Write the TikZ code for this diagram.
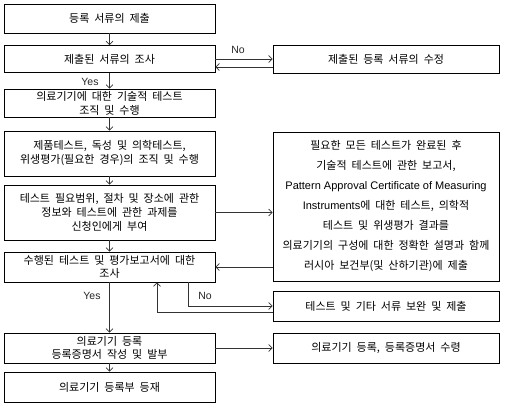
\documentclass[tikz,border=0pt]{standalone}
\usepackage{fontspec}
\setmainfont{Noto Sans CJK KR}[WordSpace=2]
\newfontfamily\lat{Liberation Sans}
\usetikzlibrary{arrows.meta}
\begin{document}
\begin{tikzpicture}[x=1pt,y=-1pt,
  box/.style={draw, line width=0.8pt, inner sep=0pt, align=center, font=\fontsize{11}{14}\selectfont},
  lbox/.style={box, minimum width=211pt},
  rbox/.style={box, minimum width=226pt},
  arr/.style={-{Straight Barb[length=3.5pt,width=7pt]}, line width=0.7pt, draw=black!80},
  lab/.style={font=\lat\fontsize{10.5}{12}\selectfont, inner sep=0pt, text=black!85}]
\useasboundingbox (0,0) rectangle (505,411);
% left column
\node[lbox, minimum height=29pt] (b1) at (109.5,18.5) {등록 서류의 제출};
\node[lbox, minimum height=27pt] (b2) at (109.5,59) {제출된 서류의 조사};
\node[lbox, minimum height=28pt] (b3) at (109.5,103) {의료기기에 대한 기술적 테스트\\조직 및 수행};
\node[lbox, minimum height=45pt] (b4) at (109.5,153.5) {제품테스트, 독성 및 의학테스트,\\위생평가(필요한 경우)의 조직 및 수행};
\node[lbox, minimum height=55pt] (b5) at (109.5,212.5) {테스트 필요범위, 절차 및 장소에 관한\\정보와 테스트에 관한 과제를\\신청인에게 부여};
\node[lbox, minimum height=30pt, font=\fontsize{11}{12.5}\selectfont] (b6) at (109.5,267) {수행된 테스트 및 평가보고서에 대한\\조사};
\node[lbox, minimum height=30pt, font=\fontsize{11}{12.5}\selectfont] (b7) at (109.5,348) {의료기기 등록\\등록증명서 작성 및 발부};
\node[lbox, minimum height=30pt] (b8) at (109.5,387) {의료기기 등록부 등재};
% right column
\node[rbox, minimum height=28pt] (r1) at (386,59) {제출된 등록 서류의 수정};
\node[rbox, minimum height=149pt, font=\fontsize{11}{20}\selectfont] (r2) at (386,206.5) {필요한 모든 테스트가 완료된 후\\기술적 테스트에 관한 보고서,\\{\lat Pattern Approval Certificate of Measuring}\\{\lat Instruments}에 대한 테스트, 의학적\\테스트 및 위생평가 결과를\\의료기기의 구성에 대한 정확한 설명과 함께\\러시아 보건부(및 산하기관)에 제출};
\node[rbox, minimum height=30pt] (r3) at (386,306) {테스트 및 기타 서류 보완 및 제출};
\node[rbox, minimum height=30pt] (r4) at (386,348) {의료기기 등록, 등록증명서 수령};
% connectors
\draw[arr] (b1.south) -- (b2.north);
\draw[arr] (b2.south) -- (b3.north);
\draw[arr] (b3.south) -- (b4.north);
\draw[arr] (b4.south) -- (b5.north);
\draw[arr] (b5.south) -- (b6.north);
\draw[arr] (b6.south) -- (b7.north);
\draw[arr] (b7.south) -- (b8.north);
\draw[arr] (b2.east) -- (r1.west);
\draw[arr] ([yshift=-8pt]r1.west) -- ([yshift=-8pt]b2.east);
\draw[arr] (b5.east) -- (b5.east -| r2.west);
\draw[arr] (b6.east -| r2.west) -- (b6.east);
\coordinate (nx) at (188,0);
\coordinate (rx) at (157,0);
\draw[arr] (b6.south -| nx) |- (r3.west);
\draw[arr] ([yshift=-6pt]r3.west) -| (b6.south -| rx);
\draw[arr] (b7.east) -- (r4.west);
% labels
\node[lab] (no1) at (238,50) {No};
\node[lab] (yes1) at (90,82) {Yes};
\node[lab] (yes2) at (92,296) {Yes};
\node[lab] (no2) at (205,296) {No};
\end{tikzpicture}
\end{document}
